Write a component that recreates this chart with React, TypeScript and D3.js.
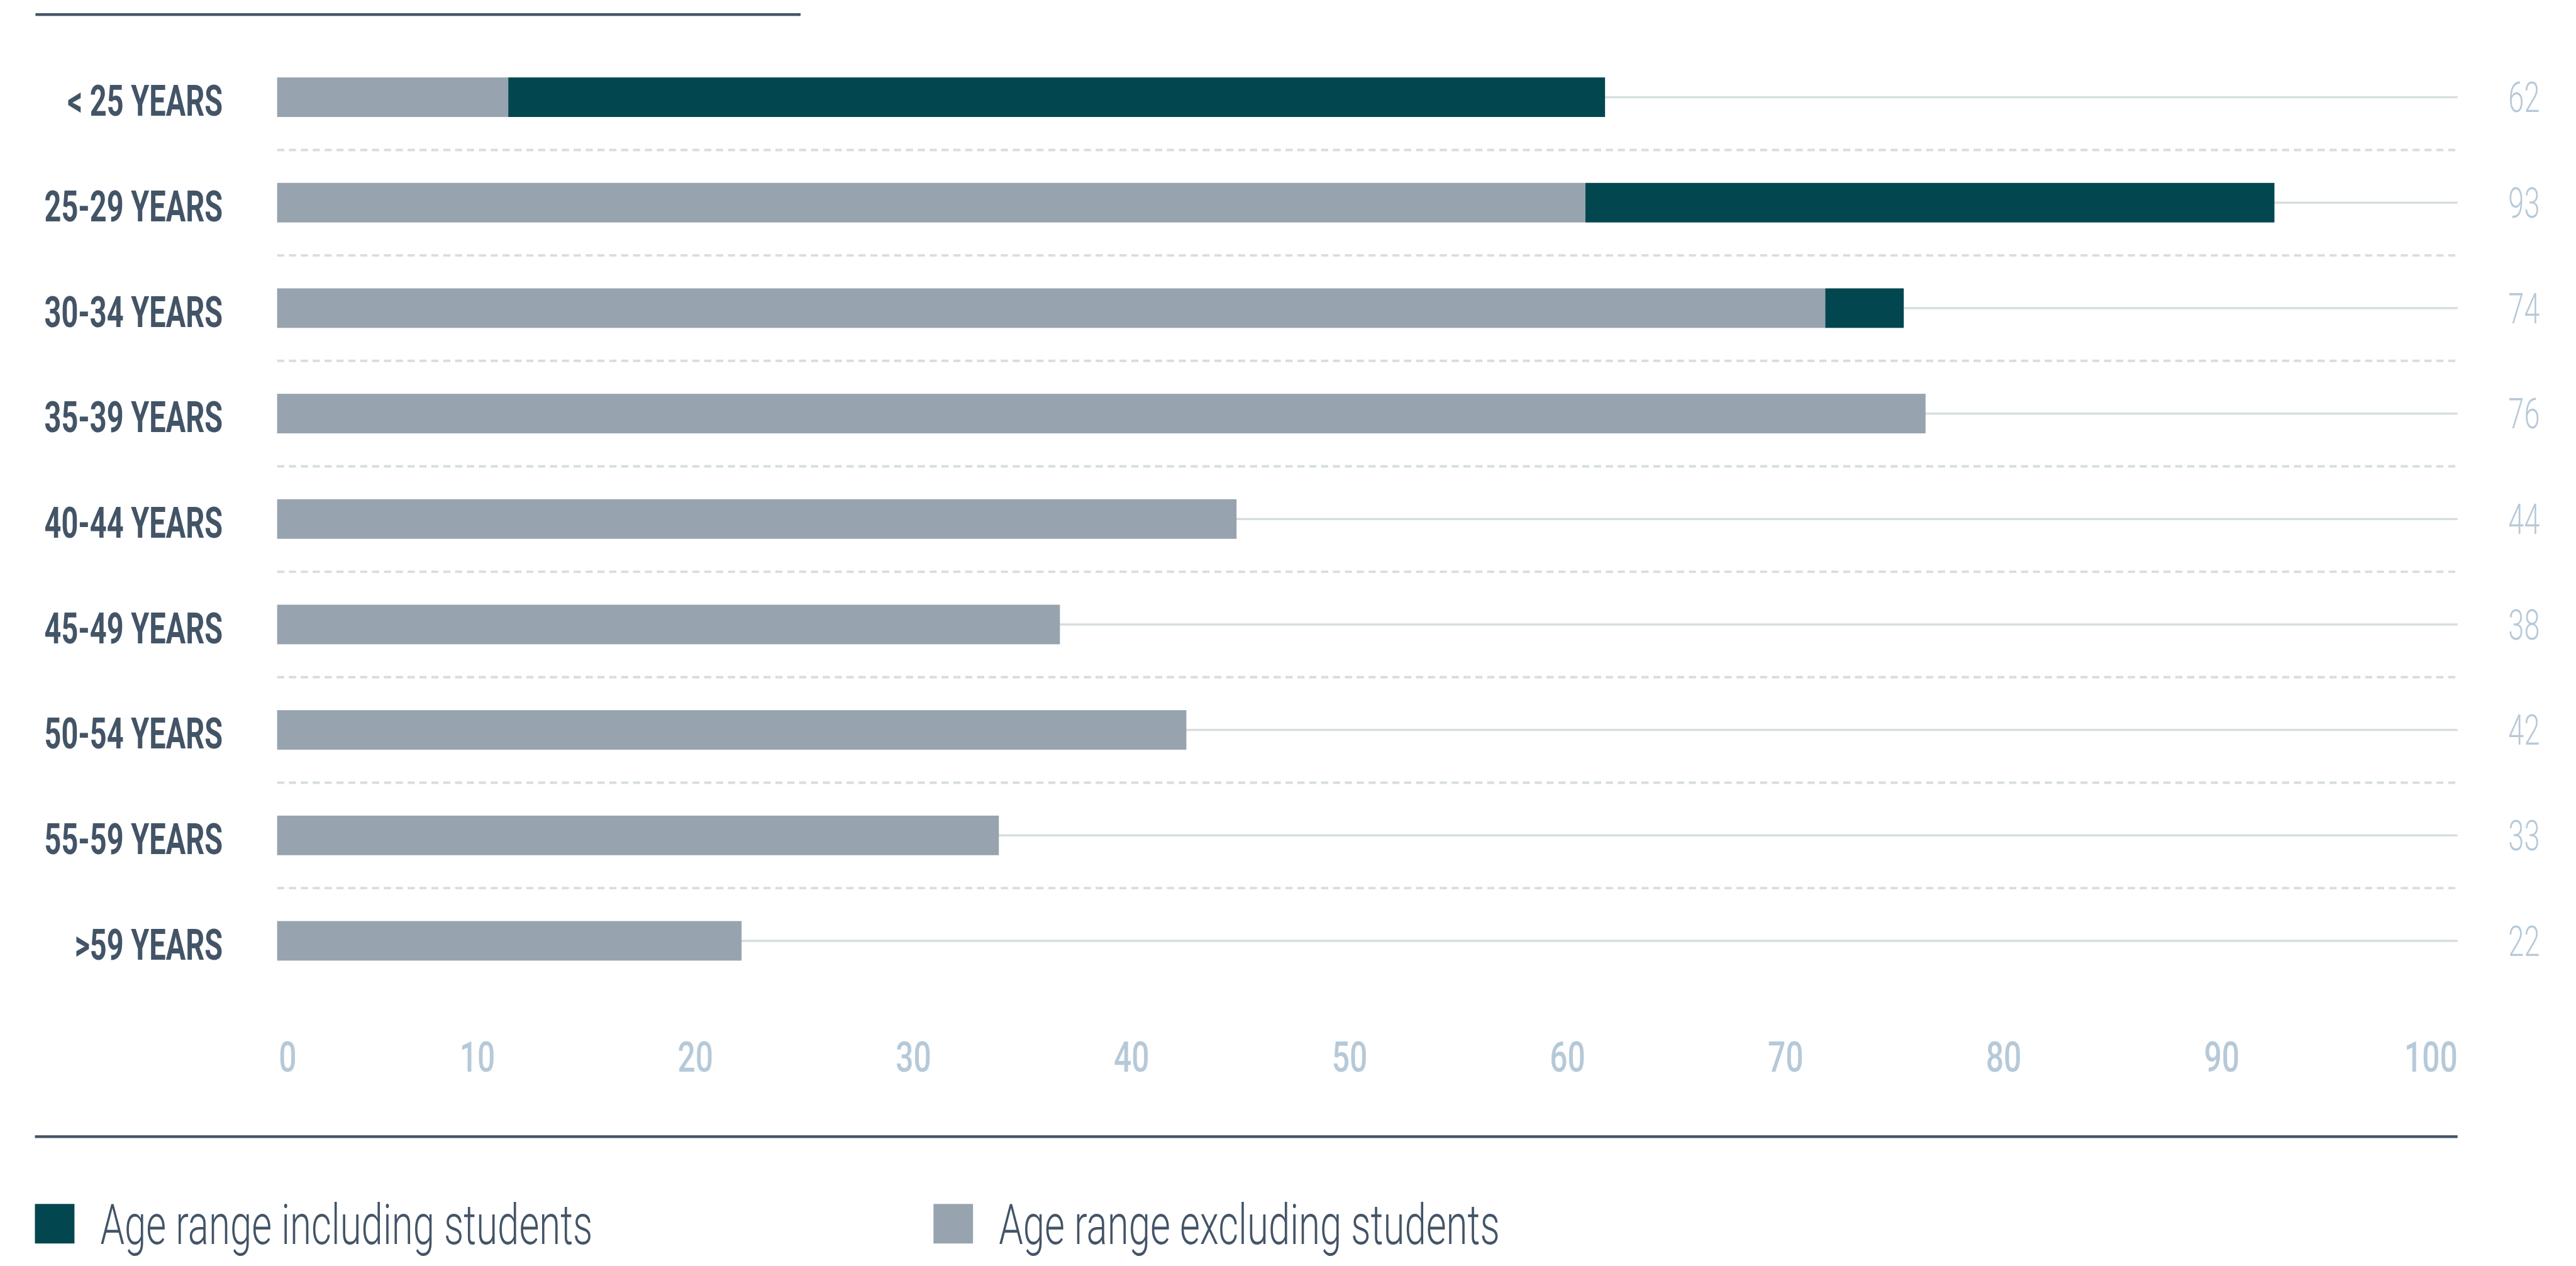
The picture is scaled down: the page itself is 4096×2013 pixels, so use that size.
import React from "react";
import * as d3 from "d3";

const categories = [
  "< 25 YEARS",
  "25-29 YEARS",
  "30-34 YEARS",
  "35-39 YEARS",
  "40-44 YEARS",
  "45-49 YEARS",
  "50-54 YEARS",
  "55-59 YEARS",
  ">59 YEARS",
];
// age range excluding students (grey)
const excludingStudents = [10.6, 60.0, 71.0, 75.6, 44.0, 35.9, 41.7, 33.1, 21.3];
// additional share when students are included (dark teal)
const studentsExtra = [50.3, 31.6, 3.6, 0, 0, 0, 0, 0, 0];
const totalLabels = ["62", "93", "74", "76", "44", "38", "42", "33", "22"];
const xTicks = [0, 10, 20, 30, 40, 50, 60, 70, 80, 90, 100];
const seriesNames = ["Age range including students", "Age range excluding students"];

const W = 4689;
const H = 2305;
const FONT = "Roboto, 'Open Sans', 'DejaVu Sans', sans-serif";
const C_DARK = "#02474f";
const C_GREY = "#97a3ae";
const C_TEXT = "#435467";
const C_LIGHT = "#b6c9d8";
const C_GRID = "#d6dee0";
const SX = 0.68;

export default function App() {
  const x = d3.scaleLinear().domain([0, 100]).range([504, 4474]);
  const y = d3
    .scaleBand<string>()
    .domain(categories)
    .range([81, 81 + 192 * categories.length])
    .paddingInner(0.625)
    .paddingOuter(0.3125);
  const bw = y.bandwidth();
  const step = y.step();

  const rows = categories.map((c, i) => ({ c, excl: excludingStudents[i], extra: studentsExtra[i] }));
  const stacked = d3.stack<any>().keys(["excl", "extra"])(rows);
  const colors = [C_GREY, C_DARK];

  return (
    <svg
      width={4096}
      height={2013}
      viewBox={`0 0 ${W} ${H}`}
      style={{ position: "absolute", left: 0, top: 0, display: "block", background: "#fff" }}
      fontFamily={FONT}
    >
      <rect x={0} y={0} width={W} height={H} fill="#fff" />
      {/* top rule */}
      <rect x={64} y={24} width={1393} height={5} fill={C_TEXT} />

      {/* solid gridlines at bar centres */}
      {categories.map((c) => (
        <rect key={"g" + c} x={x(0)} y={(y(c) as number) + bw / 2 - 2} width={x(100) - x(0)} height={4} fill={C_GRID} />
      ))}
      {/* dashed separators */}
      {categories.slice(0, -1).map((c) => (
        <line
          key={"d" + c}
          x1={x(0)}
          x2={x(100)}
          y1={(y(c) as number) + bw / 2 + step / 2}
          y2={(y(c) as number) + bw / 2 + step / 2}
          stroke={C_GRID}
          strokeWidth={4.5}
          strokeDasharray="13 8.6"
        />
      ))}

      {/* bars */}
      {stacked.map((s, si) => (
        <g key={"s" + si} fill={colors[si]}>
          {s.map((d: any, i: number) =>
            d[1] - d[0] > 0 ? (
              <rect key={i} x={x(d[0])} y={y(categories[i])} width={x(d[1]) - x(d[0])} height={bw} />
            ) : null
          )}
        </g>
      ))}

      {/* category labels */}
      {categories.map((c) => (
        <g key={"l" + c} transform={`translate(405,${(y(c) as number) + bw / 2 + 34}) scale(${SX},1)`}>
          <text textAnchor="end" fontSize={79} fontWeight={700} fill={C_TEXT}>
            {c}
          </text>
        </g>
      ))}

      {/* total labels on the right */}
      {categories.map((c, i) => (
        <g key={"t" + c} transform={`translate(4595,${(y(c) as number) + bw / 2 + 27}) scale(${SX},1)`}>
          <text textAnchor="middle" fontSize={76} fontWeight={300} fill={C_LIGHT}>
            {totalLabels[i]}
          </text>
        </g>
      ))}

      {/* x tick labels */}
      {xTicks.map((t) => (
        <g key={"x" + t} transform={`translate(${t === 0 ? x(t) + 3 : x(t)},1951) scale(0.74,1)`}>
          <text textAnchor={t === 0 ? "start" : "end"} fontSize={77} fontWeight={500} fill={C_LIGHT}>
            {t}
          </text>
        </g>
      ))}

      {/* bottom rule */}
      <rect x={63} y={2067} width={x(100) - 63} height={5} fill={C_TEXT} />

      {/* legend */}
      {[
        { name: seriesNames[0], color: C_DARK, sx: 63, tx: 182 },
        { name: seriesNames[1], color: C_GREY, sx: 1699, tx: 1818 },
      ].map((l) => (
        <g key={l.name}>
          <rect x={l.sx} y={2192} width={72} height={72} fill={l.color} />
          <g transform={`translate(${l.tx},2265) scale(0.7,1)`}>
            <text fontSize={101} fontWeight={300} fill={C_TEXT}>
              {l.name}
            </text>
          </g>
        </g>
      ))}
    </svg>
  );
}
